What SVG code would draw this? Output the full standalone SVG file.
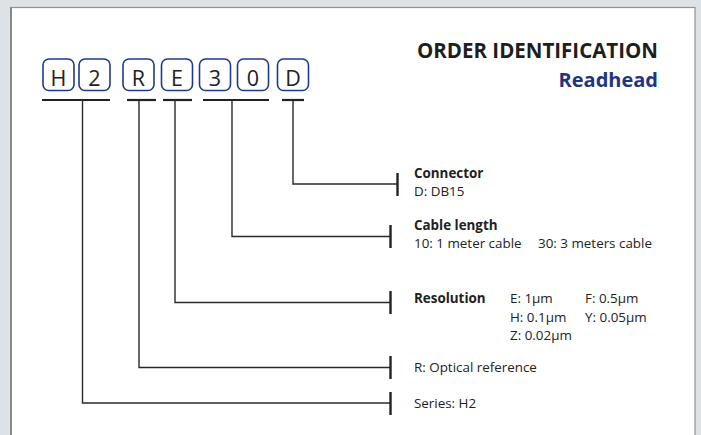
<svg xmlns="http://www.w3.org/2000/svg" width="701" height="435" viewBox="0 0 701 435">
<style>
.box{fill:#fff;stroke:#1f3a8a;stroke-width:1.6}
.bt{font-family:"Open Sans","Noto Sans",sans-serif;font-size:21.5px;fill:#222;text-anchor:middle}
.ul{stroke:#222;stroke-width:2.2}
.ln{fill:none;stroke:#2a2a2a;stroke-width:1.4}
.cap{stroke:#222;stroke-width:2.4}
.t{font-family:"Open Sans","Noto Sans",sans-serif;font-size:13.4px;fill:#222}
.b{font-weight:bold}
</style>
<rect x="0" y="0" width="701" height="435" fill="#dde2e6"/>
<rect x="11" y="7.5" width="684" height="440" fill="#fff" stroke="#8f9397" stroke-width="1.2"/>
<line x1="11" y1="7" x2="11" y2="435" stroke="#85898d" stroke-width="2"/>
<g id="title">
<text x="658" y="58" text-anchor="end" font-family="'Open Sans','Noto Sans',sans-serif" font-size="20.5" font-weight="bold" fill="#1e1e1e">ORDER IDENTIFICATION</text>
<text x="658" y="87" text-anchor="end" font-family="'Open Sans','Noto Sans',sans-serif" font-size="20" font-weight="bold" fill="#1f3584">Readhead</text>
</g>
<g id="code">
<g id="box-H"><rect class="box" x="43" y="59" width="31" height="31.5" rx="6"/><text class="bt" x="58.5" y="86">H</text></g>
<g id="box-2"><rect class="box" x="79" y="59" width="31" height="31.5" rx="6"/><text class="bt" x="94.5" y="86">2</text></g>
<g id="box-R"><rect class="box" x="123" y="59" width="31" height="31.5" rx="6"/><text class="bt" x="138.5" y="86">R</text></g>
<g id="box-E"><rect class="box" x="161.5" y="59" width="31" height="31.5" rx="6"/><text class="bt" x="177" y="86">E</text></g>
<g id="box-3"><rect class="box" x="199.5" y="59" width="31" height="31.5" rx="6"/><text class="bt" x="215" y="86">3</text></g>
<g id="box-0"><rect class="box" x="237.5" y="59" width="31" height="31.5" rx="6"/><text class="bt" x="253" y="86">0</text></g>
<g id="box-D"><rect class="box" x="277.5" y="59" width="31" height="31.5" rx="6"/><text class="bt" x="293" y="86">D</text></g>
</g>
<g id="connectors">
<line class="ul" x1="42" y1="100" x2="110" y2="100"/>
<line class="ul" x1="127" y1="100" x2="156" y2="100"/>
<line class="ul" x1="163" y1="100" x2="192" y2="100"/>
<line class="ul" x1="203" y1="100" x2="269" y2="100"/>
<line class="ul" x1="282" y1="100" x2="304" y2="100"/>
<polyline class="ln" points="293,100 293,184 397.5,184"/>
<polyline class="ln" points="232,100 232,236.5 390.5,236.5"/>
<polyline class="ln" points="175,100 175,302.5 390.5,302.5"/>
<polyline class="ln" points="139,100 139,367.5 390.5,367.5"/>
<polyline class="ln" points="82.5,100 82.5,403 390.5,403"/>
<line class="cap" x1="397.5" y1="173" x2="397.5" y2="196"/>
<line class="cap" x1="390.5" y1="225" x2="390.5" y2="248"/>
<line class="cap" x1="390.5" y1="291" x2="390.5" y2="314"/>
<line class="cap" x1="390.5" y1="356" x2="390.5" y2="379"/>
<line class="cap" x1="390.5" y1="392" x2="390.5" y2="415"/>
</g>
<g id="connector-label">
<text class="t b" x="414" y="178">Connector</text>
<text class="t" x="414" y="196">D: DB15</text>
</g>
<g id="cable-label">
<text class="t b" x="414" y="230">Cable length</text>
<text class="t" x="414" y="248">10: 1 meter cable</text>
<text class="t" x="538" y="248">30: 3 meters cable</text>
</g>
<g id="resolution-label">
<text class="t b" x="414" y="303">Resolution</text>
<text class="t" x="510" y="303">E: 1µm</text>
<text class="t" x="585" y="303">F: 0.5µm</text>
<text class="t" x="510" y="322">H: 0.1µm</text>
<text class="t" x="585" y="322">Y: 0.05µm</text>
<text class="t" x="510" y="340">Z: 0.02µm</text>
</g>
<g id="optical-label"><text class="t" x="414" y="372">R: Optical reference</text></g>
<g id="series-label"><text class="t" x="414" y="408">Series: H2</text></g>
</svg>
